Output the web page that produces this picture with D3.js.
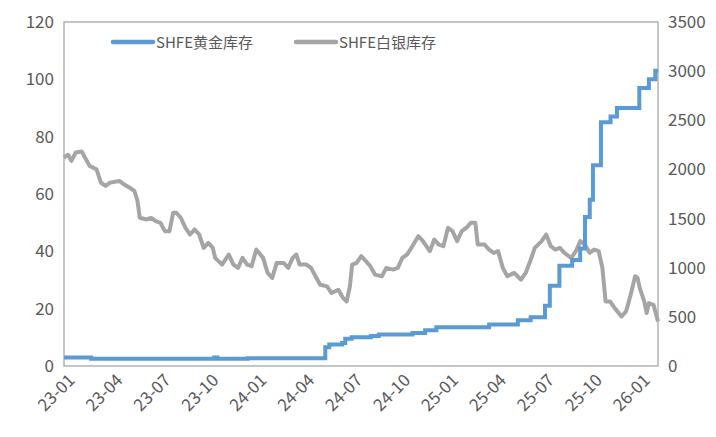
<!DOCTYPE html><html><head><meta charset="utf-8"><script src="https://cdn.jsdelivr.net/npm/d3@7"></script>
<style>body{margin:0;background:#fff}text{font-family:"Noto Sans CJK SC",sans-serif;fill:#595959}</style></head><body><svg id="c" width="716" height="437"></svg><script>
const tickLabels=["23-01","23-04","23-07","23-10","24-01","24-04","24-07","24-10","25-01","25-04","25-07","25-10","26-01"];
const goldM=[0,1.7,9.3,9.4,9.6,11.5,16.3,16.35,16.6,17.4,17.6,18,19.2,19.7,21.8,22.6,23.3,26.6,28.4,29.2,30.1,30.4,31,31.8,32.3,32.6,32.9,33.1,33.6,34.2,34.6,36,36.6,37,37.17];
const goldV=[3,2.5,2.5,3,2.5,2.7,2.7,6.5,7.5,8,9.5,10,10.5,11,11.5,12.5,13.5,14.5,16,17,21,28,35,37,41,52,58,70,85,87,90,97,100,103,103];
const silverM=[0,.26,.46,.74,1.11,1.31,1.6,2.03,2.31,2.6,2.89,3.46,3.74,4.17,4.4,4.6,4.74,5.17,5.46,5.74,6.03,6.31,6.6,6.83,7.03,7.31,7.6,7.89,8.17,8.46,8.74,9.03,9.31,9.46,9.89,10.31,10.6,10.89,11.17,11.46,11.74,12.03,12.46,12.74,13.03,13.31,13.74,14.03,14.31,14.54,14.74,15.17,15.46,15.74,16.03,16.46,16.74,17.17,17.46,17.69,17.89,18.03,18.31,18.6,18.89,19.17,19.46,19.89,20.17,20.6,20.89,21.17,21.46,21.74,22.17,22.46,22.89,23.17,23.46,23.74,24.03,24.31,24.6,24.89,25.17,25.46,25.74,25.89,26.31,26.6,26.89,27.17,27.46,27.74,28.17,28.6,28.89,29.17,29.46,29.89,30.17,30.46,30.74,31.03,31.31,31.74,32.03,32.31,32.6,32.89,33.17,33.46,33.69,33.89,34.17,34.46,34.89,35.17,35.46,35.74,35.89,36.03,36.31,36.46,36.6,36.89,37.17];
const silverV=[2121,2149,2087,2172,2183,2121,2036,2002,1866,1832,1866,1883,1849,1808,1781,1679,1508,1491,1508,1474,1457,1372,1372,1559,1559,1508,1406,1338,1389,1338,1202,1253,1202,1100,1032,1134,1032,998,1100,1032,1015,1185,1100,947,896,1049,1049,998,1100,1134,1032,1032,998,913,827,810,742,776,691,657,810,1032,1049,1117,1066,1015,930,913,998,981,998,1100,1134,1202,1321,1270,1168,1287,1236,1219,1406,1372,1270,1372,1406,1457,1457,1236,1236,1185,1151,1168,998,913,947,878,947,1066,1202,1270,1338,1219,1185,1202,1151,1100,1168,1270,1236,1151,1185,1168,998,657,657,589,504,555,725,913,896,793,657,538,640,623,453];
const leftTicks=[0,20,40,60,80,100,120], rightTicks=[0,500,1000,1500,2000,2500,3000,3500];
const svg=d3.select("#c"),L=64,R=658,T=22,B=366;
const x=d3.scaleLinear().domain([0,37.17]).range([L,R]);
const yl=d3.scaleLinear().domain([0,120]).range([B,T]);
const yr=d3.scaleLinear().domain([0,3500]).range([B,T]);
svg.append("rect").attr("x",L).attr("y",T).attr("width",R-L).attr("height",B-T).attr("fill","none").attr("stroke","#a6a6a6").attr("stroke-width",1.3);
const ax=svg.append("g").attr("transform",`translate(0,${B})`).call(d3.axisBottom(x).tickValues(d3.range(0,37,3)).tickFormat((d,i)=>tickLabels[i]).tickSize(0));
ax.select(".domain").remove();
ax.selectAll("text").attr("font-size",17).attr("text-anchor","end").attr("x",0).attr("y",0).attr("dy",null).attr("transform","translate(6,10) rotate(-45)").style("dominant-baseline","central");
const a1=svg.append("g").attr("transform",`translate(${L},0)`).call(d3.axisLeft(yl).tickValues(leftTicks).tickSize(0).tickPadding(10));
a1.select(".domain").remove();a1.selectAll("text").attr("font-size",17);
const a2=svg.append("g").attr("transform",`translate(${R},0)`).call(d3.axisRight(yr).tickValues(rightTicks).tickFormat(d3.format("d")).tickSize(0).tickPadding(10));
a2.select(".domain").remove();a2.selectAll("text").attr("font-size",17);
svg.append("path").datum(silverM.map((m,i)=>[m,silverV[i]])).attr("fill","none").attr("stroke","#a5a5a5").attr("stroke-width",4).attr("stroke-linejoin","round")
 .attr("d",d3.line().x(d=>x(d[0])).y(d=>yr(d[1])));
svg.append("path").datum(goldM.map((m,i)=>[m,goldV[i]])).attr("fill","none").attr("stroke","#5b9bd5").attr("stroke-width",4)
 .attr("d",d3.line().curve(d3.curveStepAfter).x(d=>x(d[0])).y(d=>yl(d[1])));
const lg=[["SHFE黄金库存","#5b9bd5",113],["SHFE白银库存","#a5a5a5",296]];
lg.forEach(([t,c,lx])=>{svg.append("line").attr("x1",lx).attr("x2",lx+40).attr("y1",42).attr("y2",42).attr("stroke",c).attr("stroke-width",4.5).attr("stroke-linecap","round");
svg.append("text").attr("x",lx+43).attr("y",48).attr("font-size",15).text(t);});
</script></body></html>
